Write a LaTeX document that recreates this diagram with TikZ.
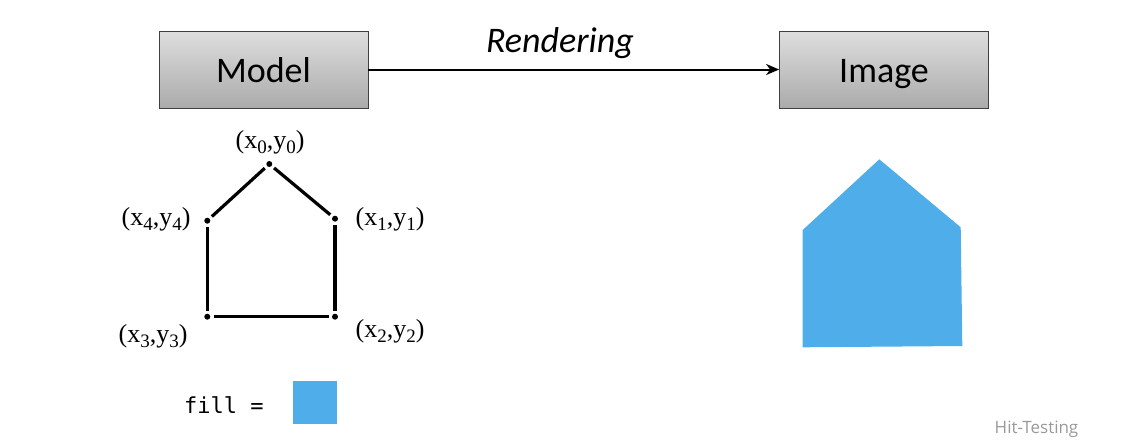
\documentclass[tikz,border=0pt]{standalone}
\usepackage{fontspec}
\setmainfont{Liberation Serif}
\newfontfamily\calib{Carlito}
\newfontfamily\opensans{Open Sans}
\newfontfamily\monof{DejaVu Sans Mono}
\usetikzlibrary{arrows.meta}
\definecolor{fillblue}{HTML}{4FADE9}
\newcommand{\lsub}[1]{\raisebox{-0.22em}{\fontsize{19}{22}\selectfont #1}}
\newcommand{\boxtxt}[1]{\raisebox{-13pt}[0pt][0pt]{#1}}
\tikzset{
  gbox/.style={draw=black!75, line width=0.8pt, top color=black!13, bottom color=black!33, minimum width=209pt, minimum height=77pt, inner sep=0pt, font=\calib\fontsize{36}{40}\selectfont},
  vdot/.style={circle, fill=black, inner sep=0pt, minimum size=6pt},
  edge/.style={line width=3.2pt, shorten >=3pt, shorten <=3pt},
  coordlbl/.style={font=\fontsize{26}{30}\selectfont, inner sep=0pt}
}
\begin{document}
\begin{tikzpicture}[x=1pt,y=-1pt]
\useasboundingbox (0,0) rectangle (1130,440);
\node[gbox] (model) at (263.5,69.5) {\boxtxt{Model}};
\node[gbox] (image) at (884,69.5) {\boxtxt{Image}};
\draw[line width=2pt, -{Stealth[length=13pt,width=11pt,inset=4pt]}] (model.east) -- (image.west);
\node[font=\calib\itshape\fontsize{36}{40}\selectfont, inner sep=0pt] (rend) at (560,43) {Rendering};
% polygon vertices
\node[vdot] (p0) at (269.3,164) {};
\node[vdot] (p1) at (335,218.7) {};
\node[vdot] (p2) at (335,316.7) {};
\node[vdot] (p3) at (207.3,316.7) {};
\node[vdot] (p4) at (207.3,220.7) {};
\draw[edge] (p0) -- (p1);
\draw[edge] (p1) -- (p2);
\draw[edge] (p2) -- (p3);
\draw[edge] (p3) -- (p4);
\draw[edge] (p4) -- (p0);
\node[coordlbl] (l0) at (270,142) {(x\lsub{0},y\lsub{0})};
\node[coordlbl] (l1) at (390,219) {(x\lsub{1},y\lsub{1})};
\node[coordlbl] (l2) at (390,331) {(x\lsub{2},y\lsub{2})};
\node[coordlbl] (l3) at (153,336) {(x\lsub{3},y\lsub{3})};
\node[coordlbl] (l4) at (156,219) {(x\lsub{4},y\lsub{4})};
% fill legend
\node[font=\monof\fontsize{22}{26}\selectfont, anchor=west, inner sep=0pt] (filltxt) at (184,405) {fill =};
\node[fill=fillblue, minimum width=44pt, minimum height=43pt, inner sep=0pt] (swatch) at (315,402.5) {};
% rendered house
\fill[fillblue] (879.3,159.3) -- (960.7,227.3) -- (962.3,346) -- (802.7,347.3) -- (802.7,230) -- cycle;
\node[font=\opensans\fontsize{17}{20}\selectfont, text=black!40, inner sep=0pt] (hit) at (1036.5,429) {Hit-Testing};
\end{tikzpicture}
\end{document}
